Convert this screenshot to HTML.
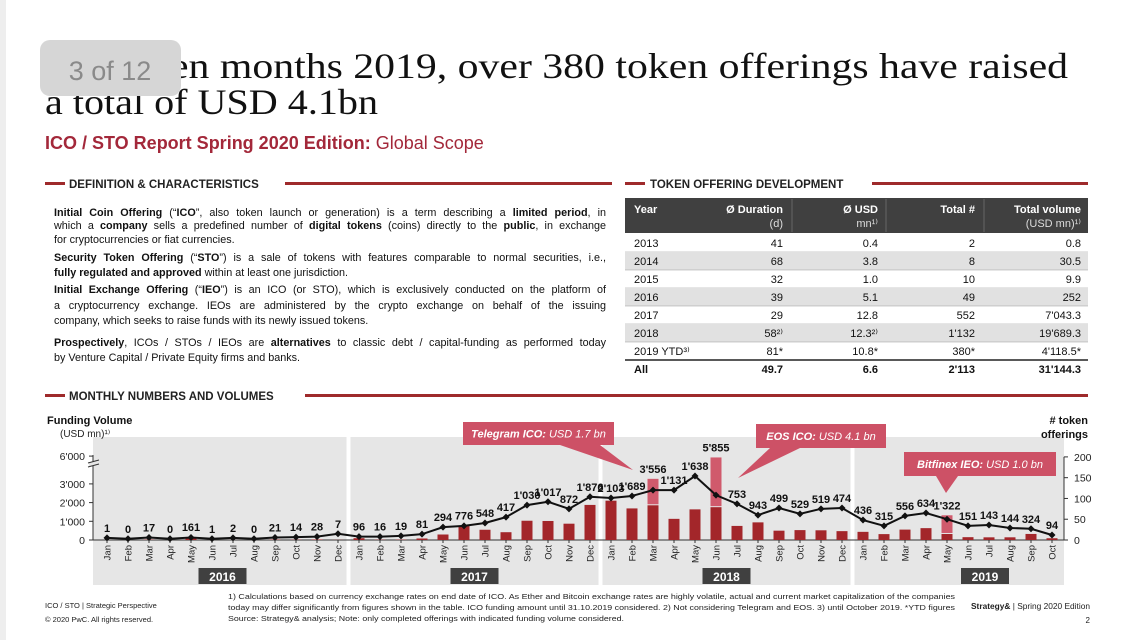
<!DOCTYPE html>
<html><head><meta charset="utf-8"><style>
html,body{margin:0;padding:0;background:#fff;}
body{position:relative;width:1136px;height:640px;overflow:hidden;}
svg{display:block;font-family:"Liberation Sans",Arial,sans-serif;}
#deftext{position:absolute;left:54px;top:0;width:552px;font-family:"Liberation Sans",Arial,sans-serif;font-size:10.8px;line-height:13px;color:#111;}
#deftext div{position:absolute;left:0;width:552px;white-space:nowrap;}
#deftext div.j{text-align:justify;text-align-last:justify;white-space:normal;}
</style></head><body>
<svg id="page" width="1136" height="640" viewBox="0 0 1136 640" xmlns="http://www.w3.org/2000/svg">
<rect x="0" y="0" width="1136" height="640" fill="#fff"/>
<rect x="0" y="0" width="6" height="640" fill="#eee"/>
<g font-family="'Liberation Serif',Georgia,serif" font-size="36" fill="#111">
<text x="170" y="78" textLength="898" lengthAdjust="spacingAndGlyphs">en months 2019, over 380 token offerings have raised</text>
<text x="45" y="114" textLength="333" lengthAdjust="spacingAndGlyphs">a total of USD 4.1bn</text>
</g>
<g>
<rect x="40" y="40" width="141" height="56" rx="10" fill="#d6d6d6"/>
<text x="110" y="80" text-anchor="middle" font-size="27" fill="#8a8a8a">3 of 12</text>
</g>
<text x="45" y="149" font-size="18" fill="#a3283a"><tspan font-weight="bold">ICO / STO Report Spring 2020 Edition:</tspan> Global Scope</text>

<g>
<rect x="45" y="182" width="20" height="3" fill="#9e2a2b"/>
<text x="69" y="188" font-size="11.5" font-weight="bold" fill="#222">DEFINITION &amp; CHARACTERISTICS</text>
<rect x="285" y="182" width="327" height="3" fill="#9e2a2b"/>
</g>
<g>
<rect x="625" y="182" width="20" height="3" fill="#9e2a2b"/>
<text x="650" y="188" font-size="11.5" font-weight="bold" fill="#222">TOKEN OFFERING DEVELOPMENT</text>
<rect x="872" y="182" width="216" height="3" fill="#9e2a2b"/>
</g>
<g>
<rect x="45" y="394" width="20" height="3" fill="#9e2a2b"/>
<text x="69" y="400" font-size="11.5" font-weight="bold" fill="#222">MONTHLY NUMBERS AND VOLUMES</text>
<rect x="305" y="394" width="783" height="3" fill="#9e2a2b"/>
</g>

<g id="table" font-size="11" fill="#111"></g>
<g id="chart"></g>

<g font-size="7.5" fill="#222">
<text x="45" y="608">ICO / STO | Strategic Perspective</text>
<text x="45" y="622">© 2020 PwC. All rights reserved.</text>
<text x="228" y="599" textLength="727" lengthAdjust="spacingAndGlyphs">1) Calculations based on currency exchange rates on end date of ICO. As Ether and Bitcoin exchange rates are highly volatile, actual and current market capitalization of the companies</text>
<text x="228" y="610" textLength="727" lengthAdjust="spacingAndGlyphs">today may differ significantly from figures shown in the table. ICO funding amount until 31.10.2019 considered. 2) Not considering Telegram and EOS. 3) until October 2019. *YTD figures</text>
<text x="228" y="621" textLength="396" lengthAdjust="spacingAndGlyphs">Source: Strategy&amp; analysis; Note: only completed offerings with indicated funding volume considered.</text>
<text x="971" y="609" font-size="8" textLength="119" lengthAdjust="spacingAndGlyphs"><tspan font-weight="bold">Strategy&amp;</tspan> | Spring 2020 Edition</text>
<text x="1090" y="623" text-anchor="end" font-size="8">2</text>
</g>
</svg>
<div id="deftext">
<div class="j" style="top:207px"><b>Initial Coin Offering</b> (“<b>ICO</b>”, also token launch or generation) is a term describing a <b>limited period</b>, in</div>
<div class="j" style="top:220px">which a <b>company</b> sells a predefined number of <b>digital tokens</b> (coins) directly to the <b>public</b>, in exchange</div>
<div style="top:234px">for cryptocurrencies or fiat currencies.</div>
<div class="j" style="top:252px"><b>Security Token Offering</b> (“<b>STO</b>”) is a sale of tokens with features comparable to normal securities, i.e.,</div>
<div style="top:267px"><b>fully regulated and approved</b> within at least one jurisdiction.</div>
<div class="j" style="top:284px"><b>Initial Exchange Offering</b> (“<b>IEO</b>”) is an ICO (or STO), which is exclusively conducted on the platform of</div>
<div class="j" style="top:300px">a cryptocurrency exchange. IEOs are administered by the crypto exchange on behalf of the issuing</div>
<div style="top:315px">company, which seeks to raise funds with its newly issued tokens.</div>
<div class="j" style="top:337px"><b>Prospectively</b>, ICOs / STOs / IEOs are <b>alternatives</b> to classic debt / capital-funding as performed today</div>
<div style="top:352px">by Venture Capital / Private Equity firms and banks.</div>
</div>
<script>
// ---- table data ----
const tableYears = ["2013","2014","2015","2016","2017","2018","2019 YTD³⁾","All"];
const tableDuration = ["41","68","32","39","29","58²⁾","81*","49.7"];
const tableAvgUsd = ["0.4","3.8","1.0","5.1","12.8","12.3²⁾","10.8*","6.6"];
const tableTotalNum = ["2","8","10","49","552","1'132","380*","2'113"];
const tableTotalVol = ["0.8","30.5","9.9","252","7'043.3","19'689.3","4'118.5*","31'144.3"];

// ---- chart data ----
const monthNames = ["Jan","Feb","Mar","Apr","May","Jun","Jul","Aug","Sep","Oct","Nov","Dec"];
const years = ["2016","2017","2018","2019"];
const offeringsCount = [5,3,6,3,6,3,5,3,6,7,8,15, 8,8,10,14,31,34,41,55,84,92,75,104, 101,106,120,120,154,108,87,60,77,63,75,77, 48,34,58,65,50,34,36,29,27,12];
const fundingVolume = [1,0,17,0,161,1,2,0,21,14,28,7, 96,16,19,81,294,776,548,417,1030,1017,872,1876, 2103,1689,3556,1131,1638,5855,753,943,499,529,519,474, 436,315,556,634,1322,151,143,144,324,94];
const specialVolume = [0,0,0,0,0,0,0,0,0,0,0,0, 0,0,0,0,0,0,0,0,0,0,0,0, 0,0,1700,0,0,4100,0,0,0,0,0,0, 0,0,0,0,1000,0,0,0,0,0];
const leftTicks = [0,1000,2000,3000,6000];
const leftTickLabels = ["0","1'000","2'000","3'000","6'000"];
const rightTicks = [0,50,100,150,200];

const NS = "http://www.w3.org/2000/svg";
function mk(parent, tag, attrs, text){
  const e = document.createElementNS(NS, tag);
  for (const k in attrs) e.setAttribute(k, attrs[k]);
  if (text !== undefined) e.textContent = text;
  parent.appendChild(e);
  return e;
}

(function(){
  const g = document.getElementById('table');
  const hdr = mk(g,'rect',{x:625,y:198,width:463,height:35,fill:'#404040'});
  
  
  const hx = [[634,'start'],[783,'end'],[878,'end'],[975,'end'],[1081,'end']];
  const h1 = ["Year","Ø Duration","Ø USD","Total #","Total volume"];
  const h2 = ["","(d)","mn¹⁾","","(USD mn)¹⁾"];
  h1.forEach((t,i)=>{
    const a = mk(g,'text',{x:hx[i][0],y:213,'text-anchor':hx[i][1],'font-weight':'bold',fill:'#fff'},t);
    
    
    if (h2[i]) mk(g,'text',{x:hx[i][0],y:227,'text-anchor':hx[i][1],fill:'#ddd'},h2[i]);
  });
  [792,886,984].forEach(x=>mk(g,'line',{x1:x,y1:199,x2:x,y2:232,stroke:'#666','stroke-width':1}));
  const cols = [tableYears,tableDuration,tableAvgUsd,tableTotalNum,tableTotalVol];
  for (let r=0;r<tableYears.length;r++){
    const y0 = 234 + r*18;
    if (r%2===1 && r<7) mk(g,'rect',{x:625,y:y0,width:463,height:18,fill:'#e1e1e1'});
    if (r<7) mk(g,'line',{x1:625,y1:y0+18,x2:1088,y2:y0+18,stroke:'#999','stroke-width':0.6});
    const row = mk(g,'g',{});
    
    
    cols.forEach((c,i)=>{
      mk(row,'text',{x:hx[i][0],y:y0+13,'text-anchor':hx[i][1],'font-weight':r===7?'bold':'normal'},c[r]);
    });
  }
  mk(g,'line',{x1:625,y1:360,x2:1088,y2:360,stroke:'#222','stroke-width':1.6});
})();

(function(){
  const g = document.getElementById('chart');
  const N = fundingVolume.length;
  const xm = i => 107 + i*21;
  const yL = v => v <= 3000 ? 540 - v*0.0187 : 484 - (v-3000)*0.0093;
  const yR = v => 540 - v*0.4155;

  years.forEach((yr,k)=>{
    const x0 = k===0 ? 93 : xm(k*12) - 8.5;
    const x1 = k===3 ? 1064 : xm(k*12+11) + 8.5;
    const p = mk(g,'rect',{x:x0,y:437,width:x1-x0,height:148,fill:'#e6e6e6'});
    
    
    const mid = (xm(k*12) + xm(Math.min(k*12+11,N-1)))/2;
    const cx = k===3 ? 985 : mid;
    const b = mk(g,'rect',{x:cx-24,y:568,width:48,height:16,fill:'#404040'});
    
    
    mk(g,'text',{x:cx,y:581,'text-anchor':'middle','font-size':12,'font-weight':'bold',fill:'#fff'},yr);
  });

  const t1 = mk(g,'text',{x:47,y:424,'font-size':11,'font-weight':'bold',fill:'#111'},'Funding Volume');
  
  
  mk(g,'text',{x:60,y:437,'font-size':10,fill:'#222'},'(USD mn)¹⁾');
  const t2 = mk(g,'text',{x:1088,y:424,'font-size':11,'font-weight':'bold','text-anchor':'end',fill:'#111'},'# token');
  
  
  mk(g,'text',{x:1088,y:438,'font-size':11,'font-weight':'bold','text-anchor':'end',fill:'#111'},'offerings');

  mk(g,'line',{x1:93,y1:455,x2:93,y2:540,stroke:'#333','stroke-width':1});
  leftTicks.forEach((v,i)=>{
    mk(g,'line',{x1:89,y1:yL(v),x2:93,y2:yL(v),stroke:'#333'});
    const t = mk(g,'text',{x:85,y:yL(v)+4,'text-anchor':'end','font-size':10.5,fill:'#222'},leftTickLabels[i]);
    
    
  });
  mk(g,'rect',{x:89,y:462,width:9,height:4,fill:'#e6e6e6'});
  mk(g,'line',{x1:88,y1:463,x2:99,y2:460,stroke:'#333'});
  mk(g,'line',{x1:88,y1:467,x2:99,y2:464,stroke:'#333'});
  mk(g,'line',{x1:1064,y1:yR(200),x2:1064,y2:540,stroke:'#333','stroke-width':1});
  rightTicks.forEach(v=>{
    mk(g,'line',{x1:1064,y1:yR(v),x2:1068,y2:yR(v),stroke:'#333'});
    const t = mk(g,'text',{x:1074,y:yR(v)+4,'font-size':10.5,fill:'#222'},String(v));
    
    
  });
  mk(g,'line',{x1:93,y1:540,x2:1064,y2:540,stroke:'#333','stroke-width':1});

  for (let i=0;i<N;i++){
    const v = fundingVolume[i], s = specialVolume[i];
    const base = v - s;
    const yb = yL(base);
    const bar = mk(g,'rect',{x:xm(i)-5.5,y:yb,width:11,height:Math.max(0,540-yb),fill:'#a3262a'});
    
    
    if (s>0){
      const yt = yL(v);
      const sp = mk(g,'rect',{x:xm(i)-5.5,y:yt,width:11,height:yb-yt-1,fill:'#d05a6c'});
      
      
    }
    mk(g,'line',{x1:xm(i),y1:540,x2:xm(i),y2:543,stroke:'#333'});
    const ml = mk(g,'text',{x:0,y:0,'font-size':9.5,fill:'#222','text-anchor':'end',transform:`translate(${xm(i)+3.5},545) rotate(-90)`},monthNames[i%12]);
    
    
  }

  let d = '';
  for (let i=0;i<N;i++) d += (i?'L':'M') + xm(i) + ' ' + yR(offeringsCount[i]) + ' ';
  const ln = mk(g,'path',{d:d,fill:'none',stroke:'#111','stroke-width':2});
  
  
  for (let i=0;i<N;i++){
    const x = xm(i), y = yR(offeringsCount[i]);
    const p = mk(g,'path',{d:`M${x} ${y-3.5}L${x+3.5} ${y}L${x} ${y+3.5}L${x-3.5} ${y}Z`,fill:'#111'});
    
    
  }

  for (let i=0;i<N;i++){
    const top = Math.min(yR(offeringsCount[i]), yL(fundingVolume[i]));
    const txt = fundingVolume[i].toString().replace(/\B(?=(\d{3})+(?!\d))/g,"'");
    const l = mk(g,'text',{x:xm(i),y:top-6,'text-anchor':'middle','font-size':11,'font-weight':'bold',fill:'#111'},txt);
    
    
  }

  function callout(name,x,y,w,h,tip,bold,rest){
    const c = mk(g,'g',{});
    
    
    mk(c,'polygon',{points:tip,fill:'#cd5166'});
    mk(c,'rect',{x:x,y:y,width:w,height:h,fill:'#cd5166'});
    const t = mk(c,'text',{x:x+w/2,y:y+h/2+4,'text-anchor':'middle','font-size':11,'font-style':'italic',fill:'#fff'});
    mk(t,'tspan',{'font-weight':'bold'},bold);
    mk(t,'tspan',{},rest);
  }
  callout('telegram-callout',463,422,151,23,'560,445 600,445 633,470','Telegram ICO:',' USD 1.7 bn');
  callout('eos-callout',756,424,130,24,'770,448 800,448 738,478','EOS ICO:',' USD 4.1 bn');
  callout('bitfinex-callout',904,452,152,24,'936,476 958,476 946,493','Bitfinex IEO:',' USD 1.0 bn');
})();
</script>
</body></html>
